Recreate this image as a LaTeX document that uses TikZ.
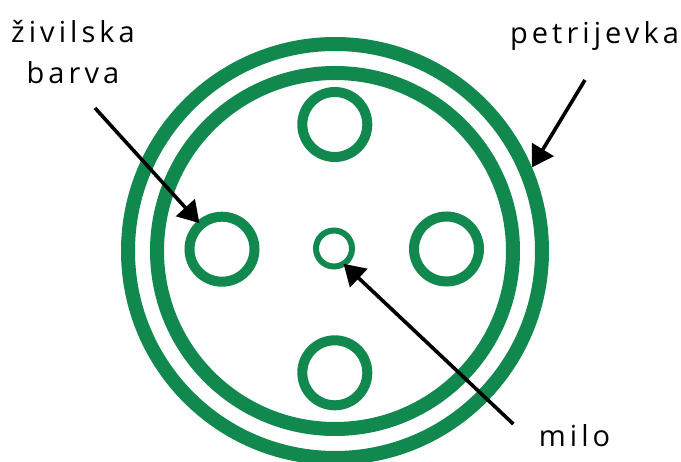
\documentclass[tikz,border=0pt]{standalone}
\usepackage{fontspec}
\setmainfont{Open Sans}[LetterSpace=14]
\usetikzlibrary{arrows.meta}
\definecolor{dish}{RGB}{17,137,78}
\begin{document}
\begin{tikzpicture}[x=1pt,y=-1pt,
  ring/.style={circle,draw=dish,inner sep=0pt,fill=none},
  sat/.style={ring,line width=10pt,minimum size=65pt},
  lbl/.style={inner sep=0pt,font=\fontsize{29}{40.6}\selectfont,text=black},
  arr/.style={line width=3.6pt,-{Triangle[length=21pt,width=25pt]}}]
\useasboundingbox (0,0) rectangle (681,462);
\fill[white] (0,0) rectangle (681,462);
% petri dish
\node[ring,line width=14pt,minimum size=414pt] (dish) at (335,251) {};
\node[ring,line width=14pt,minimum size=356pt] (rim) at (335,251) {};
% food colour drops
\node[sat] (top) at (334.8,124.5) {};
\node[sat] (left) at (222,249.2) {};
\node[sat] (right) at (446.5,249) {};
\node[sat] (bottom) at (334.8,372.8) {};
% soap
\node[ring,line width=6pt,minimum size=36pt,outer sep=0pt] (soap) at (334,248.5) {};
% labels
\node[lbl,align=center,anchor=base] (food) at (73,83.3) {živilska\\barva};
\node[lbl,anchor=base] (petri) at (594.5,43.3) {petrijevka};
\node[lbl,anchor=base] (milo) at (574.5,446.7) {milo};
% arrow tails
\coordinate (foodtail) at (95,108);
\coordinate (petritail) at (585,80);
\coordinate (milotail) at (513.3,424);
\draw[arr,shorten >=-3pt] (foodtail) -- (left.131);
\draw[arr] (petritail) -- (dish.23.6);
\draw[arr] (milotail) -- (soap.-58);
\end{tikzpicture}
\end{document}
